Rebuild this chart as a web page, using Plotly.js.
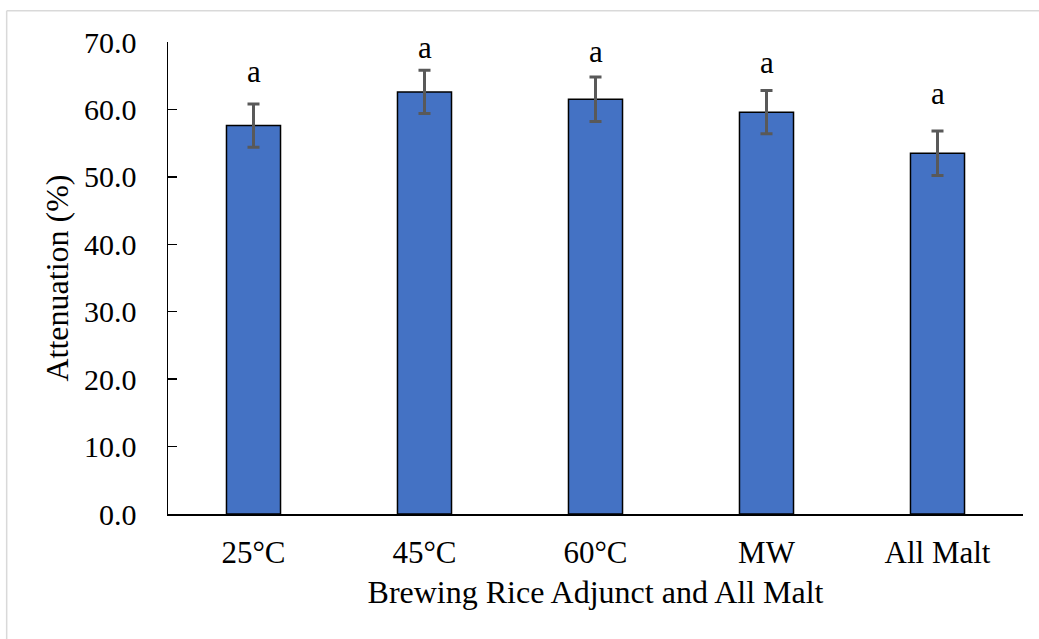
<!DOCTYPE html>
<html>
<head>
<meta charset="utf-8">
<script src="https://cdn.plot.ly/plotly-3.0.1.min.js"></script>
<style>
  html, body { margin: 0; padding: 0; background: #fff; }
  #chart { width: 1039px; height: 639px; }
</style>
</head>
<body>
<div id="chart"></div>
<script>
// Data
const categories = ['25°C', '45°C', '60°C', 'MW', 'All Malt'];
const attenuation = [57.6, 62.6, 61.5, 59.6, 53.5];
const errors = [3.2, 3.2, 3.3, 3.2, 3.3];
const letters = ['a', 'a', 'a', 'a', 'a'];
const letterHeights = [63.9, 67.5, 66.9, 65.3, 60.7];
const yTicks = [0, 10, 20, 30, 40, 50, 60, 70];

const FONT = 'Liberation Serif, Times New Roman, serif';

const trace = {
  type: 'bar',
  x: categories,
  y: attenuation,
  marker: { color: '#4472C4', line: { color: '#000000', width: 1.5 } },
  error_y: { type: 'data', array: errors, visible: true, color: '#595959', thickness: 3, width: 6 },
  hoverinfo: 'x+y'
};

const annotations = categories.map((c, i) => ({
  x: c, y: letterHeights[i], xref: 'x', yref: 'y',
  text: letters[i], showarrow: false,
  yanchor: 'bottom', yshift: -8,
  font: { family: FONT, size: 31, color: '#000' }
}));

const layout = {
  width: 1039, height: 639,
  margin: { l: 168, r: 16, t: 42, b: 125 },
  paper_bgcolor: '#ffffff', plot_bgcolor: '#ffffff',
  showlegend: false,
  bargap: 0.684,
  font: { family: FONT, size: 30, color: '#000' },
  xaxis: {
    type: 'category',
    showline: true, linecolor: '#000', linewidth: 1.5,
    ticks: '', showgrid: false, zeroline: false,
    ticklabelstandoff: 10,
    tickfont: { family: FONT, size: 31, color: '#000' },
    title: { text: 'Brewing Rice Adjunct and All Malt', standoff: 12, font: { family: FONT, size: 32, color: '#000' } }
  },
  yaxis: {
    range: [0, 70],
    tickvals: yTicks,
    tickformat: '.1f',
    showline: true, linecolor: '#000', linewidth: 1.5,
    ticks: 'inside', ticklen: 9, tickwidth: 1.5, tickcolor: '#000',
    showgrid: false, zeroline: false,
    ticklabelstandoff: 24,
    tickfont: { family: FONT, size: 30, color: '#000' },
    title: { text: 'Attenuation (%)', standoff: 6, font: { family: FONT, size: 32, color: '#000' } }
  },
  annotations: annotations,
  shapes: [
    { type: 'line', xref: 'paper', yref: 'paper', x0: -0.1887, x1: 1.2, y0: 1.0664, y1: 1.0664, line: { color: '#d9d9d9', width: 1.5 } },
    { type: 'line', xref: 'paper', yref: 'paper', x0: -0.1887, x1: -0.1887, y0: 1.0664, y1: -0.3, line: { color: '#d9d9d9', width: 1.5 } }
  ]
};

Plotly.newPlot('chart', [trace], layout, { displayModeBar: false, staticPlot: true });
</script>
</body>
</html>
